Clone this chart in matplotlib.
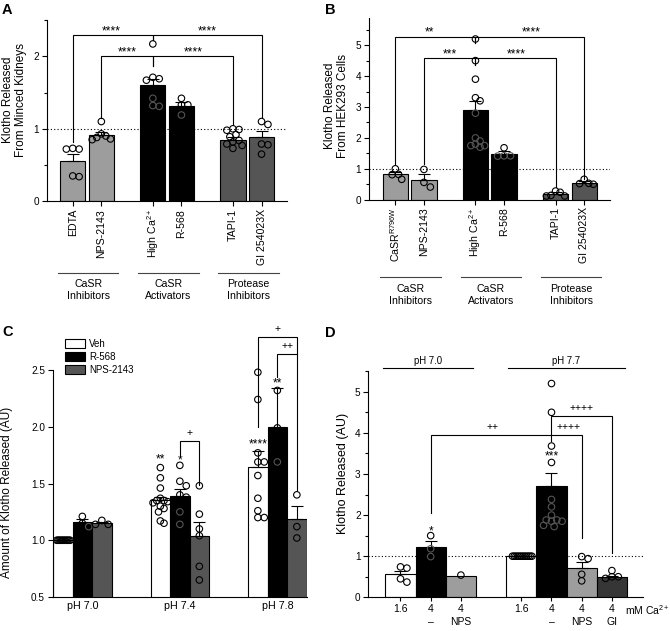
import numpy as np
import matplotlib
matplotlib.use('Agg')
import matplotlib.pyplot as plt
from matplotlib import transforms
from matplotlib.patches import Patch
from matplotlib.ticker import MultipleLocator

plt.rcParams['font.family'] = ['Liberation Sans', 'DejaVu Sans']
plt.rcParams['mathtext.fontset'] = 'custom'
plt.rcParams['mathtext.rm'] = 'Liberation Sans'
plt.rcParams['mathtext.it'] = 'Liberation Sans:italic'
plt.rcParams['mathtext.bf'] = 'Liberation Sans:bold'
plt.rcParams['mathtext.sf'] = 'Liberation Sans'

# ---------------- data ----------------
# Panel A: Klotho released from minced kidneys
a_labels = ['EDTA', 'NPS-2143', 'High Ca$^{2+}$', 'R-568', 'TAPI-1', 'GI 254023X']
a_groups = ['CaSR\nInhibitors', 'CaSR\nActivators', 'Protease\nInhibitors']
a_means = [0.56, 0.91, 1.60, 1.31, 0.85, 0.88]
a_sem = [0.09, 0.04, 0.09, 0.065, 0.04, 0.09]
a_pts_edta = [0.73, 0.72, 0.72, 0.35, 0.34]
a_pts_nps = [1.10, 0.93, 0.90, 0.88, 0.86, 0.85]
a_pts_highca = [2.17, 1.71, 1.69, 1.67, 1.42, 1.32, 1.31]
a_pts_r568 = [1.42, 1.33, 1.33, 1.19]
a_pts_tapi = [1.00, 0.99, 0.98, 0.92, 0.89, 0.84, 0.82, 0.79, 0.77, 0.73]
a_pts_gi = [1.10, 1.06, 0.79, 0.78, 0.65]

# Panel B: Klotho released from HEK293 cells
b_labels = [r'CaSR$^{\mathrm{R796W}}$', 'NPS-2143', 'High Ca$^{2+}$', 'R-568', 'TAPI-1', 'GI 254023X']
b_groups = ['CaSR\nInhibitors', 'CaSR\nActivators', 'Protease\nInhibitors']
b_means = [0.82, 0.64, 2.90, 1.47, 0.20, 0.55]
b_sem = [0.07, 0.18, 0.28, 0.12, 0.05, 0.04]
b_pts_casr = [1.00, 0.82, 0.81, 0.66]
b_pts_nps = [0.98, 0.56, 0.41]
b_pts_highca = [5.20, 4.50, 3.90, 3.30, 3.20, 2.80, 2.00, 1.90, 1.80, 1.75, 1.75, 1.70]
b_pts_r568 = [1.68, 1.42, 1.42, 1.41]
b_pts_tapi = [0.28, 0.24, 0.14, 0.12, 0.12]
b_pts_gi = [0.66, 0.53, 0.52, 0.50]

# Panel C: pH series
c_groups = ['pH 7.0', 'pH 7.4', 'pH 7.8']
c_series = ['Veh', 'R-568', 'NPS-2143']
c_veh_mean = [1.00, 1.355, 1.645]
c_r568_mean = [1.16, 1.39, 2.00]
c_nps_mean = [1.155, 1.04, 1.19]
c_veh_sem = [0.0, 0.03, 0.14]
c_r568_sem = [0.03, 0.065, 0.345]
c_nps_sem = [0.01, 0.125, 0.11]
c_veh_pts = [
    [1.00, 1.00, 1.00, 1.00, 1.00, 1.00, 1.00, 1.00, 1.00, 1.00, 1.00, 1.00],
    [1.64, 1.55, 1.46, 1.37, 1.35, 1.35, 1.34, 1.33, 1.30, 1.28, 1.25, 1.17, 1.15],
    [2.48, 2.24, 1.77, 1.69, 1.69, 1.57, 1.37, 1.26, 1.20, 1.20],
]
c_r568_pts = [
    [1.21, 1.15, 1.12],
    [1.66, 1.52, 1.48, 1.40, 1.38, 1.25, 1.14],
    [2.32, 1.99, 1.69],
]
c_nps_pts = [
    [1.175, 1.14, 1.14],
    [1.48, 1.23, 1.10, 1.04, 0.77, 0.65],
    [1.40, 1.12, 1.02],
]

# Panel D: Ca2+ at two pH values
d_ca = ['1.6', '4', '4', '1.6', '4', '4', '4']
d_treat = ['', '\u2013', 'NPS', '', '\u2013', 'NPS', 'GI']
d_ph = ['pH 7.0', 'pH 7.7']
d_means = [0.56, 1.22, 0.53, 1.00, 2.71, 0.71, 0.50]
d_sem = [0.09, 0.15, 0.0, 0.0, 0.32, 0.14, 0.03]
d_pts = [
    [0.74, 0.71, 0.45, 0.37],
    [1.50, 1.18, 0.99],
    [0.54],
    [1.00, 1.00, 1.00, 1.00, 1.00, 1.00, 1.00, 1.00, 1.00, 1.00, 1.00, 1.00],
    [5.20, 4.50, 3.68, 3.28, 2.38, 2.20, 2.00, 1.88, 1.88, 1.85, 1.85, 1.75, 1.72],
    [0.99, 0.94, 0.56, 0.40],
    [0.65, 0.50, 0.50, 0.46],
]

# ---------------- styling / layout ----------------
W, H = 670, 631
LG, DG, BK = '#9d9d9d', '#555555', '#000000'
fig = plt.figure(figsize=(6.7, 6.31), dpi=100)


def axes_px(left, top, right, bottom):
    return fig.add_axes([left / W, 1 - bottom / H, (right - left) / W, (bottom - top) / H])


def fy(px):
    return 1 - px / H


def style(ax):
    for s in ['top', 'right']:
        ax.spines[s].set_visible(False)
    for s in ['left', 'bottom']:
        ax.spines[s].set_linewidth(0.8)
    ax.tick_params(axis='both', which='major', length=3.5, width=0.8, labelsize=7.2, pad=2)
    ax.tick_params(axis='y', which='minor', length=2, width=0.8)


def swarm(ax, xc, vals, halfw, diam=6.4):
    tr = ax.transData
    pxu = tr.transform((xc + 1, 0))[0] - tr.transform((xc, 0))[0]
    ys = [tr.transform((xc, v))[1] for v in vals]
    order = np.argsort(-np.asarray(vals), kind='stable')
    placed = []
    offs = np.zeros(len(vals))
    cands = [0.0]
    for k in range(1, 60):
        cands += [k * diam * 0.5, -k * diam * 0.5]
    for i in order:
        y = ys[i]
        for c in cands:
            if all((c - px) ** 2 + (y - py) ** 2 >= (diam * 0.92) ** 2 for px, py in placed):
                break
        placed.append((c, y))
        offs[i] = c
    mx = np.max(np.abs(offs)) if len(offs) else 0
    lim = halfw * pxu
    if mx > lim:
        offs *= lim / mx
    return offs / pxu


def draw_bars(ax, pos, means, sems, colors, width):
    ax.bar(pos, means, width=width, color=colors, edgecolor='black', linewidth=0.8, zorder=2)
    for x, m, e in zip(pos, means, sems):
        if e > 0:
            ax.errorbar([x], [m], yerr=[[0], [e]], fmt='none', ecolor='black',
                        elinewidth=0.8, capsize=4, capthick=0.8, zorder=3)


def draw_points(ax, pos, pts_list, means, colors, halfw):
    for x, pts, m, c in zip(pos, pts_list, means, colors):
        offs = swarm(ax, x, pts, halfw)
        ec = ['#555555' if (c == BK and v < m - 0.03) else 'black' for v in pts]
        ax.scatter(x + offs, pts, s=22, facecolors='none', edgecolors=ec,
                   linewidths=0.8, zorder=4, clip_on=False)


def bracket(ax, x1, x2, y, y1b, y2b):
    ax.plot([x1, x1, x2, x2], [y1b, y, y, y2b], color='black', lw=0.8,
            clip_on=False, zorder=5, solid_joinstyle='miter')


def sig(ax, x, y, text, plus=False, size=None):
    off = 3.5 if plus else 0.6
    fs = size if size else (7.5 if plus else 8.6)
    ax.annotate(text, xy=(x, y), xytext=(0, off), textcoords='offset points',
                ha='center', va='baseline', fontsize=fs, annotation_clip=False, zorder=6)


def group_lines(ax, pos, groups, line_px, text_px):
    bt = transforms.blended_transform_factory(ax.transData, fig.transFigure)
    for gi, g in enumerate(groups):
        x1 = pos[2 * gi] - 0.52
        x2 = pos[2 * gi + 1] + 0.6
        ax.plot([x1, x2], [fy(line_px)] * 2, transform=bt, color='#444444', lw=0.8, clip_on=False)
        ax.text((x1 + x2) / 2, fy(text_px), g, transform=bt, ha='center', va='center',
                fontsize=7.6, linespacing=1.25, multialignment='center')


ab_pos = [0, 1, 2.8, 3.8, 5.6, 6.6]
ab_colors = [LG, LG, BK, BK, DG, DG]

# ---------------- Panel A ----------------
axA = axes_px(46.7, 20, 286.7, 201.3)
style(axA)
axA.set_xlim(-0.91, 7.48)
axA.set_ylim(0, 2.5)
axA.set_yticks([0, 1, 2])
axA.yaxis.set_minor_locator(MultipleLocator(0.5))
axA.axhline(1, color='black', lw=0.8, ls=(0, (1, 2)), zorder=1)
draw_bars(axA, ab_pos, a_means, a_sem, ab_colors, 0.88)
draw_points(axA, ab_pos, [a_pts_edta, a_pts_nps, a_pts_highca, a_pts_r568, a_pts_tapi, a_pts_gi],
            a_means, ab_colors, 0.32)
axA.set_xticks(ab_pos)
axA.set_xticklabels(a_labels, rotation=90, fontsize=7.6)
axA.tick_params(axis='x', length=3.5, pad=2)
group_lines(axA, ab_pos, a_groups, 273.3, 289.7)
bracket(axA, ab_pos[0], ab_pos[2], 2.29, 0.82, 2.22)
bracket(axA, ab_pos[2], ab_pos[5], 2.29, 2.22, 1.16)
bracket(axA, ab_pos[1], ab_pos[2], 2.00, 1.15, 1.87)
bracket(axA, ab_pos[2], ab_pos[4], 2.00, 1.87, 1.06)
sig(axA, 1.35, 2.29, '****')
sig(axA, 4.7, 2.29, '****')
sig(axA, 1.9, 2.00, '****')
sig(axA, 4.22, 2.00, '****')

# ---------------- Panel B ----------------
axB = axes_px(369, 18.3, 610.5, 199.7)
style(axB)
axB.set_xlim(-0.92, 7.52)
axB.set_ylim(0, 5.87)
axB.set_yticks([0, 1, 2, 3, 4, 5])
axB.yaxis.set_minor_locator(MultipleLocator(0.5))
axB.axhline(1, color='black', lw=0.8, ls=(0, (1, 2)), zorder=1)
draw_bars(axB, ab_pos, b_means, b_sem, ab_colors, 0.88)
draw_points(axB, ab_pos, [b_pts_casr, b_pts_nps, b_pts_highca, b_pts_r568, b_pts_tapi, b_pts_gi],
            b_means, ab_colors, 0.32)
axB.set_xticks(ab_pos)
axB.set_xticklabels(b_labels, rotation=90, fontsize=7.6)
axB.tick_params(axis='x', length=3.5, pad=2)
group_lines(axB, ab_pos, b_groups, 277.3, 294.7)
bracket(axB, ab_pos[0], ab_pos[2], 5.28, 1.15, 5.06)
bracket(axB, ab_pos[2], ab_pos[5], 5.28, 5.06, 0.68)
bracket(axB, ab_pos[1], ab_pos[2], 4.58, 1.15, 4.36)
bracket(axB, ab_pos[2], ab_pos[4], 4.58, 4.36, 0.40)
sig(axB, 1.2, 5.28, '**')
sig(axB, 4.75, 5.28, '****')
sig(axB, 1.9, 4.58, '***')
sig(axB, 4.24, 4.58, '****')

# ---------------- Panel C ----------------
axC = axes_px(52.7, 370, 306.7, 597)
style(axC)
axC.set_xlim(-0.304, 2.301)
axC.set_ylim(0.5, 2.5)
axC.set_yticks([0.5, 1.0, 1.5, 2.0, 2.5])
axC.set_yticklabels(['0.5', '1.0', '1.5', '2.0', '2.5'])
gx = np.arange(len(c_groups))
c_cols = ['white', BK, DG]
c_means_all = [c_veh_mean, c_r568_mean, c_nps_mean]
c_sems_all = [c_veh_sem, c_r568_sem, c_nps_sem]
c_pts_all = [c_veh_pts, c_r568_pts, c_nps_pts]
for si, off in enumerate([-0.2, 0.0, 0.2]):
    draw_bars(axC, gx + off, c_means_all[si], c_sems_all[si], [c_cols[si]] * 3, 0.2)
for si, off in enumerate([-0.2, 0.0, 0.2]):
    draw_points(axC, gx + off, c_pts_all[si], c_means_all[si], [c_cols[si]] * 3, 0.075)
axC.set_xticks(gx)
axC.set_xticklabels(c_groups, fontsize=7.7)
axC.tick_params(axis='x', length=0, pad=3)
handles = [Patch(facecolor=c, edgecolor='black', linewidth=0.8, label=l) for c, l in zip(c_cols, c_series)]
axC.legend(handles=handles, loc='upper left', bbox_to_anchor=(65 / W, fy(339)),
           bbox_transform=fig.transFigure, frameon=False, fontsize=7, handlelength=2.1,
           handleheight=1.1, handletextpad=0.35, labelspacing=0.3, borderpad=0, borderaxespad=0)
sig(axC, 0.8, 1.68, '**')
sig(axC, 1.0, 1.67, '*')
sig(axC, 1.8, 1.81, '****')
sig(axC, 2.0, 2.345, '**')
bracket(axC, 1.0, 1.2, 1.877, 1.74, 1.49)
sig(axC, 1.1, 1.877, '+', plus=True)
bracket(axC, 2.0, 2.2, 2.64, 2.44, 1.44)
sig(axC, 2.1, 2.64, '++', plus=True)
bracket(axC, 1.8, 2.2, 2.79, 2.0, 2.64)
sig(axC, 2.0, 2.79, '+', plus=True)

# ---------------- Panel D ----------------
axD = axes_px(368.3, 371.2, 643, 597.3)
style(axD)
d_pos = [0, 1, 2, 4, 5, 6, 7]
d_cols = ['white', BK, LG, 'white', BK, LG, '#363636']
axD.set_xlim(-1.066, 8.03)
axD.set_ylim(0, 5.5)
axD.set_yticks([0, 1, 2, 3, 4, 5])
axD.yaxis.set_minor_locator(MultipleLocator(0.5))
axD.axhline(1, color='black', lw=0.8, ls=(0, (1, 2)), zorder=1)
draw_bars(axD, d_pos, d_means, d_sem, d_cols, 1.0)
draw_points(axD, d_pos, d_pts, d_means, d_cols, 0.35)
axD.set_xticks(d_pos)
axD.set_xticklabels(d_ca, fontsize=7.5)
axD.tick_params(axis='x', length=3, pad=2)
btD = transforms.blended_transform_factory(axD.transData, fig.transFigure)
for x, t in zip(d_pos, d_treat):
    if t:
        axD.text(x, fy(622), t, transform=btD, ha='center', va='center', fontsize=7.5)
axD.text(7.43, fy(610.5), 'mM Ca$^{2+}$', transform=btD, ha='left', va='center', fontsize=7.5)
# pH headers
for (x1, x2), lab in zip([(-0.59, 2.41), (3.55, 7.43)], d_ph):
    axD.plot([x1, x2], [fy(368.3)] * 2, transform=btD, color='black', lw=0.8, clip_on=False)
    axD.text((x1 + x2) / 2, fy(360.5), lab, transform=btD, ha='center', va='center', fontsize=6.9)
sig(axD, 1, 1.50, '*')
sig(axD, 5, 3.33, '***')
bracket(axD, 1, 5, 3.94, 2.04, 3.80)
bracket(axD, 5, 6, 3.94, 3.94, 1.44)
bracket(axD, 5, 7, 4.41, 3.94, 1.07)
sig(axD, 3.05, 3.94, '++', plus=True)
sig(axD, 5.55, 3.94, '++++', plus=True)
sig(axD, 6.0, 4.41, '++++', plus=True)

# ---------------- labels ----------------
fig.text(14.5 / W, fy(100), 'Klotho Released\nFrom Minced Kidneys', rotation=90, ha='center',
         va='center', multialignment='center', fontsize=8.5, linespacing=1.1)
fig.text(336.5 / W, fy(106), 'Klotho Released\nFrom HEK293 Cells', rotation=90, ha='center',
         va='center', multialignment='center', fontsize=8.5, linespacing=1.1)
fig.text(7.5 / W, fy(492.5), 'Amount of Klotho Released (AU)', rotation=90, ha='center',
         va='center', fontsize=8.5)
fig.text(343 / W, fy(473.3), 'Klotho Released (AU)', rotation=90, ha='center',
         va='center', fontsize=9)
for lab, x, y in [('A', 2, 3), ('B', 325, 3), ('C', 2, 325), ('D', 325, 326)]:
    fig.text(x / W, fy(y), lab, ha='left', va='top', fontsize=10.5, fontweight='bold')

fig.savefig('out.png', dpi=100)
